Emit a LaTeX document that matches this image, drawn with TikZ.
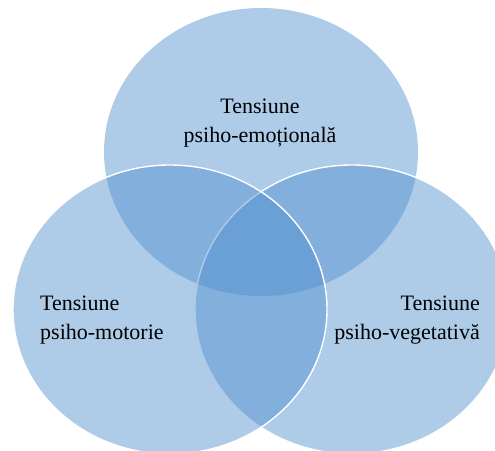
\documentclass[tikz,border=0pt]{standalone}
\usepackage{fontspec}
\setmainfont{Liberation Serif}
\definecolor{vennblue}{RGB}{78,142,205}
\begin{document}
\begin{tikzpicture}[x=1pt,y=-1pt,
  venn/.style={fill=vennblue,fill opacity=0.46},
  vennline/.style={venn,draw=white,draw opacity=1,line width=1.4pt},
  lbl/.style={inner sep=0pt,font=\fontsize{22}{29}\selectfont,text=black}]
\useasboundingbox (0,0) rectangle (495,450);
\clip (0,0) rectangle (495,450);
\path[venn] (261,152) ellipse [x radius=157, y radius=144];
\path[vennline] (352,309.5) ellipse [x radius=157, y radius=144.5];
\path[vennline] (170,309.5) ellipse [x radius=157, y radius=144.5];
\node[lbl,align=center,anchor=base] (emo) at (260,142.5) {Tensiune\\psiho-emoțională};
\node[lbl,align=left,anchor=base west] (mot) at (40,339) {Tensiune\\psiho-motorie};
\node[lbl,align=right,anchor=base east] (veg) at (480,339) {Tensiune\\psiho-vegetativă};
\end{tikzpicture}
\end{document}
